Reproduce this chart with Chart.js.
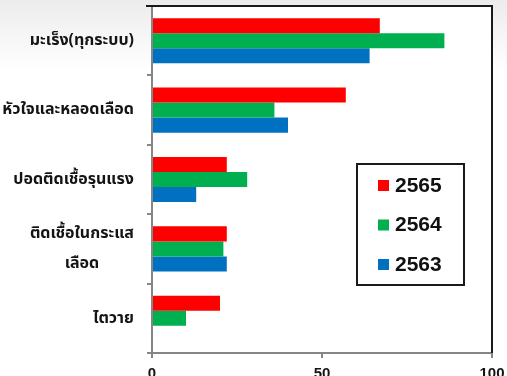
<!DOCTYPE html>
<html>
<head>
<meta charset="utf-8">
<title>สาเหตุการเสียชีวิต</title>
<script src="https://cdn.jsdelivr.net/npm/chart.js@4.4.0/dist/chart.umd.min.js"></script>
<style>
  html, body { margin: 0; padding: 0; background: #fff; overflow: hidden; }
  #wrap { position: relative; width: 507px; height: 392px; }
</style>
</head>
<body>
<div id="wrap"><canvas id="myChart"></canvas></div>
<script>
// causes of death, one row per category
const causes = [
    'มะเร็ง(ทุกระบบ)',
    'หัวใจและหลอดเลือด',
    'ปอดติดเชื้อรุนแรง',
    ['ติดเชื้อในกระแส', 'เลือด'],
    'ไตวาย'
];
const years = ['2565', '2564', '2563'];
const values2565 = [67, 57, 22, 22, 20];
const values2564 = [86, 36, 28, 21, 10];
const values2563 = [64, 40, 13, 22, 0];
const xTicks = [0, 50, 100];

const yearColors = ['#ff0000', '#00b050', '#0070c0'];
const labelFont = 'bold 16px "Noto Sans Thai", "Noto Sans", "DejaVu Sans", sans-serif';

// soft grey page behind the chart, white plot box
const backdrop = {
    id: 'backdrop',
    beforeDraw(chart) {
        const { ctx, width, height, chartArea: a } = chart;
        ctx.save();
        const g = ctx.createLinearGradient(0, 0, 0, 70);
        g.addColorStop(0, '#ececec');
        g.addColorStop(1, '#ffffff');
        ctx.fillStyle = g;
        ctx.fillRect(0, 0, width, height);
        ctx.fillStyle = '#fff';
        ctx.fillRect(a.left, a.top, a.right - a.left, a.bottom - a.top);
        ctx.restore();
    }
};

// plot frame: dark lines on top and right, axes stay grey
const framePlugin = {
    id: 'frame',
    beforeDatasetsDraw(chart) {
        const { ctx, chartArea: a } = chart;
        ctx.save();
        ctx.strokeStyle = '#1a1a1a';
        ctx.lineWidth = 2;
        ctx.beginPath();
        ctx.moveTo(a.left - 6, a.top);
        ctx.lineTo(a.right, a.top);
        ctx.lineTo(a.right, a.bottom);
        ctx.stroke();
        ctx.restore();
    }
};

// category names: single lines right aligned, wrapped lines centred on the widest one
const categoryLabels = {
    id: 'categoryLabels',
    afterDraw(chart) {
        const { ctx } = chart;
        const y = chart.scales.y;
        const right = y.right - 18;
        const lineHeight = 30;
        ctx.save();
        ctx.font = labelFont;
        ctx.fillStyle = '#141414';
        ctx.textAlign = 'center';
        ctx.textBaseline = 'middle';
        chart.data.labels.forEach((label, i) => {
            const lines = Array.isArray(label) ? label : [label];
            const widest = Math.max(...lines.map(l => ctx.measureText(l).width));
            const cx = right - widest / 2;
            const cy = y.getPixelForValue(i) + 1;
            lines.forEach((line, j) => {
                const off = (j - (lines.length - 1) / 2) * lineHeight;
                ctx.fillText(line, cx, cy + off);
            });
        });
        ctx.restore();
    }
};

// boxed legend inside the plot, lower right
const boxLegend = {
    id: 'boxLegend',
    afterDraw(chart) {
        const { ctx, chartArea: a } = chart;
        const x = a.right - 135, top = a.top + 158, w = 107, h = 121;
        ctx.save();
        ctx.fillStyle = '#fff';
        ctx.fillRect(x, top, w, h);
        ctx.strokeStyle = '#1a1a1a';
        ctx.lineWidth = 2;
        ctx.strokeRect(x, top, w, h);
        ctx.font = 'bold 21px "Liberation Sans", Arial, sans-serif';
        ctx.textBaseline = 'middle';
        ctx.textAlign = 'left';
        chart.data.datasets.forEach((ds, i) => {
            const cy = top + 21 + i * 39.5;
            ctx.fillStyle = ds.backgroundColor;
            ctx.fillRect(x + 21, cy - 5, 11, 11);
            ctx.fillStyle = '#111';
            ctx.fillText(ds.label, x + 38, cy + 1);
        });
        ctx.restore();
    }
};

const ctx = document.getElementById('myChart').getContext('2d');
new Chart(ctx, {
    type: 'bar',
    data: {
        labels: causes,
        datasets: [values2565, values2564, values2563].map((vals, i) => ({
            label: years[i],
            data: vals,
            backgroundColor: yearColors[i],
            categoryPercentage: 0.65,
            barPercentage: 1.0
        }))
    },
    options: {
        indexAxis: 'y',
        responsive: true,
        maintainAspectRatio: false,
        animation: false,
        layout: { padding: { top: 6, right: 15, left: 0, bottom: 0 } },
        plugins: {
            legend: { display: false },
            tooltip: { enabled: false }
        },
        scales: {
            x: {
                min: 0,
                max: 100,
                afterBuildTicks: scale => { scale.ticks = xTicks.map(v => ({ value: v })); },
                afterFit: scale => {
                    scale.height = 39;
                    scale.paddingLeft = 0;
                    scale.paddingRight = 0;
                },
                grid: { drawOnChartArea: false, drawTicks: true, tickLength: 5, color: '#868686', lineWidth: 2 },
                border: { color: '#868686', width: 2 },
                ticks: {
                    color: '#141414',
                    padding: 7,
                    font: { family: '"Liberation Sans", Arial, sans-serif', size: 15, weight: 'bold' }
                }
            },
            y: {
                afterFit: scale => { scale.width = 152; },
                grid: { drawOnChartArea: false, drawTicks: true, tickLength: 5, color: '#868686', lineWidth: 2 },
                border: { color: '#868686', width: 2 },
                ticks: { display: false }
            }
        }
    },
    plugins: [backdrop, framePlugin, categoryLabels, boxLegend]
});
</script>
</body>
</html>
